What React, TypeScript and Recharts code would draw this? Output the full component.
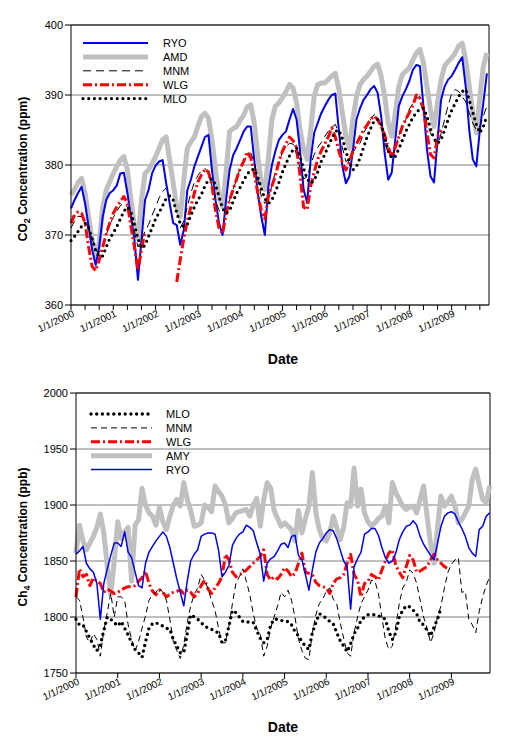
import React from "react";
import {
  LineChart,
  Line,
  XAxis,
  YAxis,
  CartesianGrid,
  ReferenceLine,
  Legend
} from "recharts";

const FONT = "'Liberation Sans', Arial, sans-serif";

// tick labels, one per year (x value = month index from Jan 2000)
const yearLabels = [
  "1/1/2000", "1/1/2001", "1/1/2002", "1/1/2003", "1/1/2004",
  "1/1/2005", "1/1/2006", "1/1/2007", "1/1/2008", "1/1/2009"
];

// ---- CO2 (ppm), monthly Jan 2000 - Nov 2009 ----
const co2Ryo = [
  373.8, 375.0, 376.0, 376.9, 374.5, 371.2, 367.9, 365.7, 368.3, 372.6, 375.0, 376.0,
  376.4, 377.1, 378.8, 378.9, 376.0, 372.6, 369.3, 363.6, 369.3, 375.0, 376.4, 378.8,
  379.9, 380.5, 380.7, 377.4, 374.5, 371.7, 371.4, 368.6, 370.7, 376.4, 377.9, 379.8,
  381.2, 382.6, 384.0, 384.3, 379.3, 375.0, 371.7, 370.0, 375.0, 379.3, 381.4, 382.4,
  383.6, 384.8, 385.5, 385.5, 380.7, 376.0, 372.6, 370.0, 376.9, 380.0, 382.0, 383.6,
  384.3, 384.8, 386.5, 388.0, 386.5, 382.0, 376.5, 374.6, 380.8, 384.6, 386.0, 387.4,
  388.4, 389.3, 390.0, 390.2, 385.0, 379.8, 377.4, 378.4, 382.2, 386.5, 388.1, 389.3,
  390.0, 390.8, 391.3, 390.3, 387.0, 381.7, 377.9, 378.9, 383.6, 388.4, 389.8, 390.8,
  392.0, 393.6, 394.3, 394.1, 388.4, 382.2, 378.4, 377.5, 383.6, 389.3, 391.2, 392.2,
  392.7, 393.6, 394.6, 395.4, 391.2, 385.0, 380.8, 379.8, 385.0, 388.9, 393.1
];
const co2Amd = [
  375.7, 376.5, 377.5, 378.1, 376.0, 372.6, 369.3, 366.7, 369.0, 374.0, 376.4, 377.6,
  378.8, 379.8, 380.7, 381.2, 379.3, 375.0, 371.2, 369.5, 375.0, 378.8, 379.3, 380.2,
  381.2, 382.4, 383.6, 384.0, 380.7, 377.4, 374.0, 372.6, 377.9, 382.4, 383.3, 384.0,
  385.5, 386.9, 387.4, 386.7, 383.6, 379.3, 375.5, 374.0, 379.0, 384.8, 385.2, 385.5,
  386.4, 387.1, 388.3, 388.6, 386.0, 381.2, 377.4, 376.5, 381.0, 386.5, 388.4, 388.9,
  389.6, 390.5, 391.5, 391.0, 388.9, 385.0, 382.2, 380.8, 385.0, 389.8, 391.5, 391.7,
  391.7, 392.2, 392.7, 393.1, 390.8, 387.4, 384.1, 382.4, 386.5, 389.8, 391.5, 392.2,
  392.7, 393.4, 394.1, 394.4, 392.7, 389.8, 386.0, 384.1, 387.4, 391.2, 392.9, 393.4,
  393.9, 395.0, 396.0, 396.5, 394.6, 391.2, 387.9, 385.5, 388.9, 392.2, 394.1, 394.8,
  395.3, 396.0, 397.0, 397.4, 395.0, 391.2, 387.4, 384.6, 389.8, 394.1, 396.0
];
const co2Mnm = [
  371.0, 372.0, 372.7, 372.6, 372.0, 371.0, 369.5, 367.8, 367.5, 368.5, 370.0, 371.5,
  372.5, 373.4, 374.2, 374.5, 374.0, 372.5, 370.5, 368.3, 369.3, 370.5, 371.5, 372.8,
  374.0, 375.3, 376.2, 376.7, null, null, null, 371.0, 372.0, 374.0, 376.0, 377.5,
  378.5, 379.2, 379.5, 379.0, 377.0, 375.0, 373.5, 373.1, 373.3, 375.0, 376.5, 378.0,
  379.5, 380.5, 381.3, 381.7, 380.5, 378.0, 375.5, 374.5, 375.5, 377.0, 379.0, 380.5,
  381.8, 382.6, 383.1, 383.0, 381.5, 379.5, 378.0, 378.3, 380.0, 381.5, 382.5, 383.2,
  384.1, 384.8, 385.4, 385.8, 384.5, 382.5, 380.5, 380.8, 381.8, 382.6, 383.1, 384.5,
  385.5, 386.5, 387.2, 387.0, 385.5, 383.5, 381.5, 381.2, 382.5, 384.0, 385.5, 386.5,
  388.0, 388.8, 389.5, 389.8, 388.5, 386.0, 384.6, 383.5, 382.7, 384.5, 386.5, 388.5,
  390.2, 390.8, 390.5, 389.8, 389.0, 387.5, 386.0, 385.0, 385.5, 387.0, 388.4
];
const co2Wlg = [
  371.7, 372.9, 373.3, 373.1, 371.7, 368.3, 365.5, 364.9, 366.4, 368.3, 370.2, 371.7,
  373.1, 374.0, 374.8, 375.5, 374.5, 371.2, 368.3, 365.0, 367.9, 370.5, null, null,
  null, null, null, null, null, null, 363.3, 366.5, 369.5, 372.0, 374.0, 376.0,
  377.6, 378.6, 379.4, 379.0, 377.0, 373.5, 371.0, 370.2, 373.0, 375.0, 376.5, 378.0,
  379.5, 380.5, 381.9, 381.0, 378.8, 376.0, 373.5, 372.3, 375.5, 377.0, 378.5, 380.5,
  382.0, 383.0, 384.0, 383.5, 382.5, 378.5, 374.0, 373.6, 377.0, 379.0, 380.8, 382.0,
  383.0, 384.0, 385.3, 384.0, 382.0, 380.3, 379.3, 380.5, 382.0, 383.0, 384.0, 385.0,
  385.7, 386.5, 387.0, 386.5, 385.5, 384.3, 382.5, 381.2, 382.5, 384.0, 385.5, 386.5,
  387.5, 388.5, 390.0, 389.5, 388.0, 384.6, 381.5, 381.0, 384.0, 385.0, null, null,
  null, null, null, null, null, null, null, null, null, null, null
];
const co2Mlo = [
  369.2, 369.8, 370.5, 371.2, 371.7, 371.0, 369.5, 367.8, 366.9, 367.0, 368.3, 369.5,
  370.3, 371.2, 372.3, 373.4, 374.0, 373.3, 371.5, 369.5, 368.1, 368.5, 369.8, 371.0,
  372.3, 373.2, 374.2, 375.2, 375.6, 375.0, 373.2, 371.6, 371.2, 371.5, 372.8, 374.0,
  375.0, 375.8, 377.0, 377.9, 378.0, 377.2, 375.5, 373.8, 373.1, 373.5, 374.8, 376.0,
  376.8, 377.8, 378.7, 379.3, 379.4, 378.3, 376.6, 375.2, 374.5, 375.0, 376.2, 377.5,
  379.0, 380.2, 381.3, 382.2, 382.4, 381.2, 379.5, 378.0, 377.4, 377.8, 379.0, 380.5,
  381.5, 382.7, 383.8, 384.8, 385.0, 383.8, 382.0, 380.3, 379.3, 379.8, 381.0, 382.5,
  384.0, 385.2, 386.3, 386.5, 385.8, 384.0, 382.0, 381.0, 381.2, 382.3, 383.5, 384.8,
  385.8, 386.8, 387.5, 388.0, 388.1, 387.0, 385.2, 383.8, 383.1, 383.6, 385.0, 386.5,
  387.8, 388.8, 389.8, 390.5, 390.8, 389.3, 387.5, 385.8, 384.6, 385.5, 387.0
];

// ---- CH4 (ppb), monthly Jan 2000 - Dec 2009 ----
const ch4Mlo = [
  1798, 1793, 1793, 1787, 1781, 1775, 1770, 1775, 1788, 1800, 1798, 1795,
  1792, 1796, 1790, 1784, 1777, 1771, 1768, 1764, 1778, 1790, 1794, 1795,
  1793, 1792, 1790, 1789, 1780, 1774, 1768, 1768, 1785, 1802, 1800, 1798,
  1795, 1792, 1790, 1789, 1787, 1786, 1777, 1779, 1792, 1806, 1804, 1800,
  1796, 1795, 1796, 1795, 1788, 1781, 1777, 1780, 1793, 1798, 1798, 1797,
  1796, 1796, 1793, 1787, 1783, 1778, 1774, 1771, 1786, 1795, 1803, 1801,
  1799, 1796, 1794, 1786, 1779, 1774, 1769, 1776, 1785, 1790, 1797, 1800,
  1802, 1802, 1802, 1801, 1800, 1798, 1787, 1780, 1786, 1800, 1806, 1810,
  1809, 1806, 1803, 1795, 1793, 1788, 1783, 1791, 1798, 1808, null, null,
  null, null, null, null, null, null, null, null, null, null, null, null
];
const ch4Mnm = [
  1818, 1815, 1800, 1782, 1777, 1785, 1780, 1765, 1788, 1804, 1821, 1800,
  1818, 1818, 1815, 1793, 1780, 1770, 1778, 1790, 1801, 1815, 1820, 1822,
  1826, 1822, 1815, 1798, 1778, 1770, 1763, 1775, 1795, 1810, 1820, 1826,
  1838, 1833, 1825, 1815, 1806, 1790, 1777, 1777, 1792, 1812, 1830, 1836,
  1843, 1832, 1820, 1803, 1790, 1785, 1765, 1774, 1790, 1800, 1810, 1822,
  1818, 1824, 1815, 1800, 1780, 1770, 1763, 1762, 1786, 1802, 1812, 1816,
  1823, 1826, 1816, 1812, 1795, 1781, 1768, 1765, 1786, 1800, 1812, 1818,
  1824, 1833, 1832, 1821, 1800, 1780, 1771, 1774, 1792, 1812, 1826, 1831,
  1842, 1839, 1830, 1815, 1800, 1790, 1777, 1786, 1800, 1810, 1826, 1840,
  1847, 1851, 1853, 1822, 1823, 1798, 1793, 1786, 1805, 1818, 1828, 1836
];
const ch4Wlg = [
  1818, 1843, 1836, 1838, 1828, 1835, 1832, 1830, 1822, 1825, 1823, 1821,
  1822, 1824, 1826, 1827, 1827, 1828, 1832, 1835, 1841, 1830, 1823, 1820,
  1824, 1822, 1818, 1820, 1822, 1823, 1824, 1821, 1824, 1822, 1818, 1821,
  1828, 1833, 1825, 1821, 1826, 1830, 1836, 1856, 1851, 1840, 1836, 1838,
  1839, 1842, 1845, 1848, 1851, 1854, 1860, 1838, 1833, 1836, 1834, 1838,
  1844, 1841, 1836, 1839, 1848, 1857, 1840, 1839, 1838, 1831, 1828, 1827,
  1826, 1821, 1830, 1834, 1835, 1838, 1848, 1856, 1838, 1833, 1818, 1830,
  1832, 1838, 1836, 1833, 1842, 1850, 1857, 1860, 1846, 1840, 1835, 1845,
  1855, 1851, 1840, 1841, 1843, 1845, 1851, 1856, 1851, 1848, 1845, 1843,
  null, null, null, null, null, null, null, null, null, null, null, null
];
const ch4Amy = [
  1857, 1882, 1868, 1860, 1866, 1872, 1880, 1892, 1875, 1845, 1820, 1850,
  1885, 1870, 1876, 1880, 1832, 1882, 1887, 1915, 1900, 1893, 1890, 1882,
  1898, 1885, 1878, 1890, 1900, 1905, 1899, 1920, 1905, 1895, 1881, 1882,
  1884, 1900, 1898, 1894, 1917, 1912, 1908, 1900, 1884, 1888, 1893, 1894,
  1895, 1896, 1890, 1900, 1906, 1881, 1905, 1920, 1915, 1895, 1888, 1881,
  1884, 1881, 1878, 1868, 1895, 1875, 1888, 1899, 1929, 1893, 1878, 1870,
  1868, 1875, 1890, 1880, 1869, 1880, 1902, 1899, 1933, 1899, 1914, 1893,
  1885, 1881, 1884, 1888, 1890, 1899, 1884, 1920, 1911, 1905, 1899, 1896,
  1898, 1899, 1893, 1905, 1917, 1890, 1866, 1848, 1880, 1908, 1899, 1903,
  1908, 1899, 1884, 1887, 1893, 1899, 1923, 1932, 1918, 1905, 1902, 1917
];
const ch4Ryo = [
  1856, 1859, 1863, 1848, 1843, 1840, 1830, 1798, 1830, 1843, 1855, 1866,
  1866, 1863, 1876, 1858, 1853, 1840, 1828, 1826, 1848, 1858, 1863, 1868,
  1872, 1876, 1872, 1862, 1848, 1834, 1822, 1810, 1832, 1850, 1856, 1860,
  1872, 1874, 1875, 1875, 1874, 1860, 1836, 1840, 1846, 1864, 1870, 1874,
  1876, 1882, 1880, 1877, 1866, 1856, 1832, 1848, 1852, 1854, 1859, 1865,
  1866, 1862, 1872, 1873, 1855, 1851, 1838, 1824, 1842, 1858, 1866, 1870,
  1875, 1878, 1877, 1870, 1860, 1850, 1845, 1807, 1845, 1852, 1858, 1874,
  1876, 1879, 1879, 1873, 1862, 1853, 1848, 1850, 1857, 1869, 1876, 1881,
  1882, 1886, 1882, 1872, 1865, 1860, 1855, 1851, 1866, 1881, 1890, 1893,
  1894, 1892, 1885, 1879, 1872, 1862, 1857, 1854, 1878, 1881, 1890, 1893
];

const co2Data = co2Ryo.map((v, i) => ({
  m: i,
  RYO: v,
  AMD: co2Amd[i],
  MNM: co2Mnm[i],
  WLG: co2Wlg[i],
  MLO: co2Mlo[i]
}));

const ch4Data = ch4Amy.map((v, i) => ({
  m: i,
  MLO: ch4Mlo[i],
  MNM: ch4Mnm[i],
  WLG: ch4Wlg[i],
  AMY: v,
  RYO: ch4Ryo[i]
}));

const co2Ticks = Array.from({ length: 30 }, (_, i) => i * 4);
const ch4Ticks = Array.from({ length: 10 }, (_, i) => i * 12);

type Style = {
  name: string;
  color: string;
  width: number;
  dash?: string;
  cap?: "round" | "butt";
};

const co2Series: Style[] = [
  { name: "RYO", color: "#0000ee", width: 2 },
  { name: "AMD", color: "#c0c0c0", width: 5 },
  { name: "MNM", color: "#000000", width: 1, dash: "8 5" },
  { name: "WLG", color: "#ff0000", width: 3, dash: "9 3 2 3" },
  { name: "MLO", color: "#000000", width: 3.2, dash: "0 5.7", cap: "round" }
];

const ch4Series: Style[] = [
  { name: "MLO", color: "#000000", width: 3.4, dash: "0 5.7", cap: "round" },
  { name: "MNM", color: "#000000", width: 1, dash: "6 4" },
  { name: "WLG", color: "#ff0000", width: 3, dash: "9 3 2 3" },
  { name: "AMY", color: "#c0c0c0", width: 5 },
  { name: "RYO", color: "#0000ee", width: 1.5 }
];

function DateTick(props: any) {
  const { x, y, payload } = props;
  const v = payload.value;
  if (v % 12 !== 0) return <g />;
  const tx = x + 4;
  const ty = y + 4;
  return (
    <text
      x={tx}
      y={ty}
      transform={`rotate(-25 ${tx} ${ty})`}
      textAnchor="end"
      fontSize={10}
      fontFamily={FONT}
      fill="#000"
    >
      {yearLabels[v / 12]}
    </text>
  );
}

function YTitle(props: any) {
  const { viewBox, head, sub, tail } = props;
  const cx = 27;
  const cy = viewBox.y + viewBox.height / 2 + 4;
  return (
    <text
      x={cx}
      y={cy}
      transform={`rotate(-90 ${cx} ${cy})`}
      textAnchor="middle"
      fontSize={12}
      fontWeight="bold"
      fontFamily={FONT}
      fill="#000"
    >
      {head}
      <tspan dy={3} fontSize={9}>{sub}</tspan>
      <tspan dy={-3}>{tail}</tspan>
    </text>
  );
}

function DateTitle(props: any) {
  const { viewBox, dx } = props;
  return (
    <text
      x={viewBox.x + viewBox.width / 2 + dx}
      y={viewBox.y + 59}
      textAnchor="middle"
      fontSize={14}
      fontWeight="bold"
      fontFamily={FONT}
      fill="#000"
    >
      Date
    </text>
  );
}

function LegendBox(props: any) {
  const { items, x1, x2, tx } = props;
  return (
    <svg width={120} height={72} style={{ display: "block" }}>
      {items.map((s: Style, i: number) => {
        const cy = 7 + i * 13.9;
        return (
          <g key={s.name}>
            <line
              x1={x1}
              x2={x2}
              y1={cy}
              y2={cy}
              stroke={s.color}
              strokeWidth={s.width}
              strokeDasharray={s.dash}
              strokeLinecap={s.cap || "butt"}
            />
            <text x={tx} y={cy + 4} fontSize={11} fontFamily={FONT} fill="#000">
              {s.name}
            </text>
          </g>
        );
      })}
    </svg>
  );
}

function seriesLines(list: Style[]) {
  return list.map((s) => (
    <Line
      key={s.name}
      type="linear"
      dataKey={s.name}
      stroke={s.color}
      strokeWidth={s.width}
      strokeDasharray={s.dash}
      strokeLinecap={s.cap || "butt"}
      strokeLinejoin="round"
      dot={false}
      activeDot={false}
      isAnimationActive={false}
    />
  ));
}

const axisTick = { fontSize: 11, fill: "#000", fontFamily: FONT };

export default function App() {
  // draw order: later series on top, like the original
  const co2Draw = [co2Series[1], co2Series[0], co2Series[2], co2Series[3], co2Series[4]];
  const ch4Draw = [ch4Series[3], ch4Series[2], ch4Series[1], ch4Series[0], ch4Series[4]];

  return (
    <div style={{ position: "absolute", left: 0, top: 0, width: 523, height: 736, background: "#fff" }}>
      <LineChart width={523} height={370} data={co2Data} margin={{ top: 25, right: 34, bottom: 25, left: 0 }}>
        <CartesianGrid vertical={false} stroke="#808080" />
        <XAxis
          type="number"
          dataKey="m"
          domain={[0, 118.6]}
          ticks={co2Ticks}
          interval={0}
          tick={<DateTick />}
          tickSize={5}
          tickLine={{ stroke: "#000" }}
          axisLine={{ stroke: "#000" }}
          height={40}
          label={<DateTitle dx={3} />}
        />
        <YAxis
          type="number"
          domain={[360, 400]}
          ticks={[360, 370, 380, 390, 400]}
          interval={0}
          width={71}
          tickSize={6}
          tick={axisTick}
          tickLine={{ stroke: "#000" }}
          axisLine={{ stroke: "#000" }}
          label={<YTitle head="CO" sub="2" tail=" Concentration (ppm)" />}
        />
        <ReferenceLine y={400} stroke="#000" />
        <ReferenceLine x={118.6} stroke="#000" />
        {seriesLines(co2Draw)}
        <Legend
          layout="vertical"
          align="center"
          verticalAlign="middle"
          wrapperStyle={{ position: "absolute", left: 80, top: 36, width: 120, height: 72 }}
          content={<LegendBox items={co2Series} x1={3} x2={68} tx={83} />}
        />
      </LineChart>
      <LineChart width={523} height={366} data={ch4Data} margin={{ top: 23, right: 33, bottom: 23, left: 0 }}>
        <CartesianGrid vertical={false} stroke="#808080" />
        <XAxis
          type="number"
          dataKey="m"
          domain={[0, 119.1]}
          ticks={ch4Ticks}
          interval={0}
          tick={<DateTick />}
          tickSize={5}
          tickLine={{ stroke: "#000" }}
          axisLine={{ stroke: "#000" }}
          height={40}
          label={<DateTitle dx={0} />}
        />
        <YAxis
          type="number"
          domain={[1750, 2000]}
          ticks={[1750, 1800, 1850, 1900, 1950, 2000]}
          interval={0}
          width={76}
          tickSize={6}
          tick={axisTick}
          tickLine={{ stroke: "#000" }}
          axisLine={{ stroke: "#000" }}
          label={<YTitle head="Ch" sub="4" tail=" Concentration (ppb)" />}
        />
        <ReferenceLine y={2000} stroke="#000" />
        <ReferenceLine x={119.1} stroke="#000" />
        {seriesLines(ch4Draw)}
        <Legend
          layout="vertical"
          align="center"
          verticalAlign="middle"
          wrapperStyle={{ position: "absolute", left: 88, top: 37, width: 120, height: 72 }}
          content={<LegendBox items={ch4Series} x1={3} x2={64} tx={78} />}
        />
      </LineChart>
    </div>
  );
}
